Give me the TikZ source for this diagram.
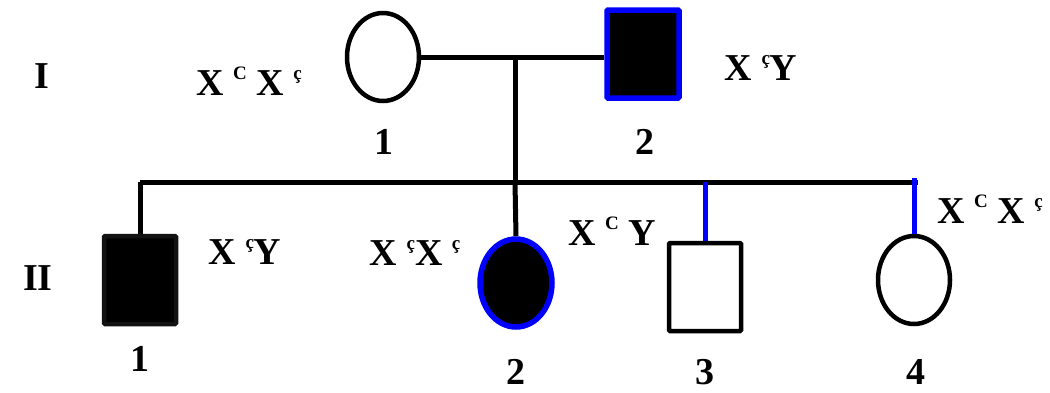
\documentclass[tikz,border=0pt]{standalone}
\usepackage{fontspec}
\setmainfont{Liberation Serif}
\usetikzlibrary{shapes.geometric}
\newcommand{\gsup}[1]{\raisebox{0.40em}{\fontsize{19}{19}\selectfont #1}}
\definecolor{pblue}{RGB}{0,0,255}
\tikzset{
  lbl/.style={font=\fontsize{38}{38}\selectfont\bfseries, inner sep=0pt},
  geno/.style={font=\fontsize{38}{38}\selectfont\bfseries, inner sep=0pt, anchor=base},
  female/.style={ellipse, draw=black, line width=4.5pt, minimum width=72pt, minimum height=88pt, inner sep=0pt},
  male/.style={rectangle, draw=black, line width=4.5pt, minimum width=72pt, minimum height=88pt, inner sep=0pt, rounded corners=1pt},
  affected/.style={fill=black},
  bluebord/.style={draw=pblue, line width=5.5pt},
  link/.style={line width=5pt, black},
  bluelink/.style={line width=5pt, pblue}
}
\begin{document}
\begin{tikzpicture}[x=1pt,y=-1pt]
\useasboundingbox (0,0) rectangle (1050,392);
% generation labels
\node[lbl] (gI) at (42,76) {I};
\node[lbl] (gII) at (38,278) {II};
% generation I
\node[female, fill=white] (I1) at (383,57) {};
\node[male, affected, bluebord] (I2) at (643,54) {};
\node[lbl] (nI1) at (384,142) {1};
\node[lbl] (nI2) at (645,142) {2};
\node[geno] (gtI1) at (249,95) {X \gsup{C} X \gsup{ç}};
\node[geno] (gtI2) at (761,80) {X \gsup{ç}Y};
% generation II
\node[male, affected, draw=black!93] (II1) at (140,280) {};
\node[female, affected, bluebord] (II2) at (516,283) {};
\node[male, fill=white] (II3) at (705,287) {};
\node[female, fill=white] (II4) at (914,280) {};
\node[lbl] (nII1) at (140,359) {1};
\node[lbl] (nII2) at (516,372) {2};
\node[lbl] (nII3) at (705,372) {3};
\node[lbl] (nII4) at (916,372) {4};
\node[geno] (gtII1) at (245,264) {X \gsup{ç}Y};
\node[geno] (gtII2) at (415,265) {X \gsup{ç}X \gsup{ç}};
\node[geno] (gtII3) at (612,245) {X \gsup{C} Y};
\node[geno] (gtII4) at (990,223) {X \gsup{C} X \gsup{ç}};
% connectors
\coordinate (m) at (515,57);
\coordinate (sib) at (515,182);
\coordinate (sr) at (918,182);
\draw[link] (I1.east) -- (I1.east -| I2.west);
\draw[link] (m) -- (sib);
\draw[link] (II1.north) -- ++(0,-52) coordinate (sl);
\draw[link] (sl |- sib) -- (sr);
\draw[link] (sib) -- (II2.north);
\draw[bluelink] (II3.north |- sib) -- (II3.north);
\draw[bluelink] (II4.north) -- ++(0,-56);
\end{tikzpicture}
\end{document}
